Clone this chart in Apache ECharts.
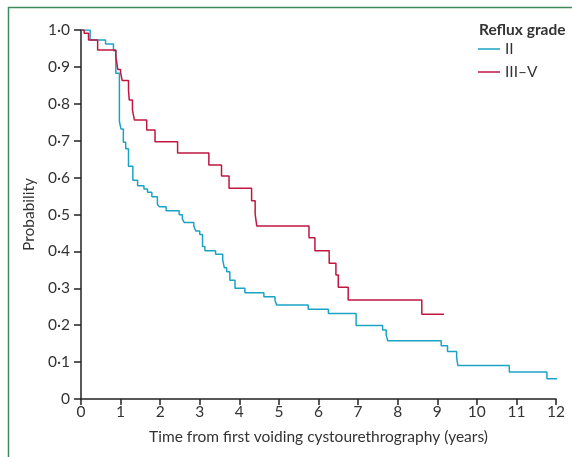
<!DOCTYPE html>
<html><head><meta charset="utf-8">
<script src="https://cdn.jsdelivr.net/npm/echarts@6/dist/echarts.min.js"></script>
<style>html,body{margin:0;padding:0;background:#fff}#c{width:572px;height:457px}</style>
</head><body><div id="c"></div>
<script>
const seriesNames = ['II', 'III–V'];
const xTickLabels = ['0','1','2','3','4','5','6','7','8','9','10','11','12'];
const yTickLabels = ['0','0·1','0·2','0·3','0·4','0·5','0·6','0·7','0·8','0·9','1·0'];
// Kaplan-Meier step points: [time (years), probability after drop]
const gradeII = [
  [0,1.0],[0.23,0.973],[0.62,0.962],[0.82,0.944],[0.88,0.883],[0.97,0.752],[1.01,0.732],
  [1.07,0.696],[1.13,0.678],[1.20,0.631],[1.31,0.593],[1.43,0.578],[1.59,0.569],[1.68,0.56],
  [1.79,0.548],[1.93,0.527],[1.98,0.521],[2.15,0.510],[2.48,0.499],[2.56,0.488],[2.61,0.478],
  [2.85,0.469],[2.90,0.455],[3.00,0.446],[3.07,0.413],[3.13,0.402],[3.40,0.392],[3.58,0.377],
  [3.62,0.356],[3.68,0.345],[3.76,0.322],[3.89,0.30],[4.14,0.288],[4.62,0.277],[4.90,0.268],
  [4.94,0.255],[5.74,0.243],[6.25,0.232],[6.95,0.199],[7.62,0.187],[7.71,0.173],[7.75,0.158],
  [9.10,0.144],[9.26,0.129],[9.49,0.112],[9.52,0.091],[10.82,0.073],[11.77,0.055],[12.03,0.055]
];
const gradeIIIV = [
  [0,1.0],[0.08,0.991],[0.19,0.973],[0.42,0.946],[0.88,0.928],[0.93,0.893],[1.00,0.885],
  [1.04,0.863],[1.20,0.837],[1.22,0.81],[1.30,0.783],[1.35,0.756],[1.66,0.729],[1.87,0.697],
  [2.44,0.667],[3.23,0.634],[3.55,0.604],[3.74,0.571],[4.31,0.537],[4.40,0.501],[4.44,0.469],
  [5.76,0.437],[5.91,0.402],[6.27,0.368],[6.44,0.336],[6.50,0.303],[6.75,0.268],[8.61,0.230],
  [9.17,0.230]
];
const colors = ['#1ba3c6', '#c0163f'];
const FONT = 'Lato';
const FS = 15.5;
const chart = echarts.init(document.getElementById('c'), null, {renderer: 'canvas'});
chart.setOption({
  animation: false,
  backgroundColor: '#fff',
  textStyle: {fontFamily: FONT},
  graphic: [
    {type: 'polyline', shape: {points: [[8.5, 457], [8.5, 7.5], [572, 7.5]]}, style: {stroke: '#3d8b5e', lineWidth: 1.5, fill: null}}
  ],
  title: {
    text: 'Reflux grade', left: 474, top: 17,
    textStyle: {fontFamily: FONT, fontSize: FS, fontWeight: 'bold', color: '#333'}
  },
  legend: {
    orient: 'vertical', left: 473, top: 36, itemGap: 7,
    icon: 'rect', itemWidth: 22, itemHeight: 1.5,
    textStyle: {fontFamily: FONT, fontSize: FS, color: '#333'},
    data: seriesNames
  },
  grid: {left: 81, right: 16, top: 30, bottom: 58},
  xAxis: {
    type: 'value', min: 0, max: 12, interval: 1,
    name: 'Time from first voiding cystourethrography (years)',
    nameLocation: 'middle', nameGap: 30,
    nameTextStyle: {fontFamily: FONT, fontSize: FS, color: '#333'},
    axisLine: {lineStyle: {color: '#222', width: 1.5}},
    axisTick: {length: 6, lineStyle: {color: '#222', width: 1.5}},
    axisLabel: {fontFamily: FONT, fontSize: FS, color: '#333', margin: 5,
      formatter: (v) => xTickLabels[Math.round(v)]},
    splitLine: {show: false}
  },
  yAxis: {
    type: 'value', min: 0, max: 1, interval: 0.1,
    name: 'Probability', nameLocation: 'middle', nameGap: 44,
    nameTextStyle: {fontFamily: FONT, fontSize: FS, color: '#333'},
    axisLine: {show: true, lineStyle: {color: '#222', width: 1.5}},
    axisTick: {show: true, length: 7, lineStyle: {color: '#222', width: 1.5}},
    axisLabel: {fontFamily: FONT, fontSize: FS, color: '#333', margin: 11,
      formatter: (v) => yTickLabels[Math.round(v * 10)]},
    splitLine: {show: false}
  },
  series: [
    {name: seriesNames[0], type: 'line', step: 'end', data: gradeII, showSymbol: false,
     lineStyle: {color: colors[0], width: 1.5}, itemStyle: {color: colors[0]}},
    {name: seriesNames[1], type: 'line', step: 'end', data: gradeIIIV, showSymbol: false,
     lineStyle: {color: colors[1], width: 1.5}, itemStyle: {color: colors[1]}}
  ]
});
</script></body></html>
